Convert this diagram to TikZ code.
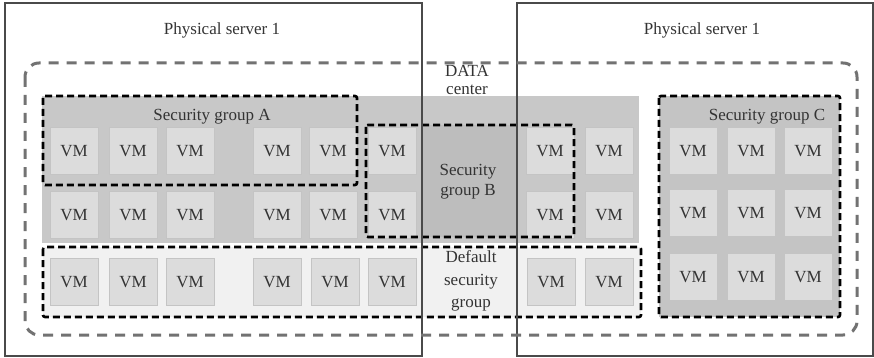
\documentclass[tikz,border=0pt]{standalone}
\usepackage{fontspec}
\setmainfont{Liberation Serif}
\definecolor{vmfill}{HTML}{DCDCDC}
\definecolor{vmline}{HTML}{C4C4C4}
\definecolor{hostfill}{HTML}{C8C8C8}
\definecolor{midfill}{HTML}{BDBDBD}
\definecolor{deffill}{HTML}{F1F1F1}
\definecolor{groupcfill}{HTML}{C4C4C4}
\definecolor{dcline}{HTML}{727272}
\definecolor{srvline}{HTML}{4A4A4A}
\tikzset{
  vm/.style={fill=vmfill, draw=vmline, line width=0.8pt, minimum width=48pt, minimum height=47pt, inner sep=0pt,
    text=black!80, font=\fontsize{17}{20}\selectfont},
  secgroup/.style={draw=black, line width=2.6pt, dash pattern=on 7pt off 4pt, rounded corners=2pt},
  dcbox/.style={draw=dcline, line width=3pt, dash pattern=on 10pt off 8pt, rounded corners=14pt},
  server/.style={draw=srvline, line width=1.2pt},
  lbl/.style={text=black!80, font=\fontsize{17}{20}\selectfont, align=center}
}
\begin{document}
\begin{tikzpicture}[x=1pt,y=-1pt]
\useasboundingbox (0,0) rectangle (874,358);

   % shaded areas
   \fill[hostfill] (42,96) rectangle (639,243);
   \fill[midfill] (422,125) rectangle (517,237);
   \fill[deffill] (43,247) rectangle (641,317);
   \fill[groupcfill] (659,96) rectangle (840,317);

   % VMs, first row
   \node[vm] at (74,151)  (a1) {VM};
   \node[vm] at (133,151) (a2) {VM};
   \node[vm] at (190,151) (a3) {VM};
   \node[vm] at (277,151) (a4) {VM};
   \node[vm] at (333,151) (a5) {VM};
   \node[vm] at (392,151) (b1) {VM};
   \node[vm] at (550,151) (b2) {VM};
   \node[vm] at (609,151) (h1) {VM};

   % VMs, second row
   \node[vm] at (74,215)  (h2) {VM};
   \node[vm] at (133,215) (h3) {VM};
   \node[vm] at (190,215) (h4) {VM};
   \node[vm] at (277,215) (h5) {VM};
   \node[vm] at (333,215) (h6) {VM};
   \node[vm] at (392,215) (b3) {VM};
   \node[vm] at (550,215) (b4) {VM};
   \node[vm] at (609,215) (h7) {VM};

   % VMs, third row
   \node[vm] at (74,282)  (d1) {VM};
   \node[vm] at (133,282) (d2) {VM};
   \node[vm] at (190,282) (d3) {VM};
   \node[vm] at (277,282) (d4) {VM};
   \node[vm] at (335,282) (d5) {VM};
   \node[vm] at (392,282) (d6) {VM};
   \node[vm] at (551,282) (d7) {VM};
   \node[vm] at (609,282) (d8) {VM};

   % VMs of group C
   \node[vm] at (693,151) (c1) {VM};
   \node[vm] at (751,151) (c2) {VM};
   \node[vm] at (808,151) (c3) {VM};
   \node[vm] at (693,213) (c4) {VM};
   \node[vm] at (751,213) (c5) {VM};
   \node[vm] at (808,213) (c6) {VM};
   \node[vm] at (693,277) (c7) {VM};
   \node[vm] at (751,277) (c8) {VM};
   \node[vm] at (808,277) (c9) {VM};

   % security groups
   \draw[secgroup] (43,96) rectangle (357,185);
   \draw[secgroup] (366,125) rectangle (574,237);
   \draw[secgroup] (43,247) rectangle (641,317);
   \draw[secgroup] (659,96) rectangle (840,317);

   % servers and data center
   \draw[server] (5,3) rectangle (422,356);
   \draw[server] (517,3) rectangle (873,356);
   \draw[dcbox] (25,63) rectangle (857,335);

   % labels
   \node[lbl] at (222,30) (srvA) {Physical server 1};
   \node[lbl] at (702,30) (srvB) {Physical server 1};
   \node[lbl, font=\fontsize{17}{18}\selectfont] at (467,80) (dc) {DATA\\center};
   \node[lbl] at (212,117) (sgA) {Security group A};
   \node[lbl] at (468,182) (sgB) {Security\\group B};
   \node[lbl] at (767,117) (sgC) {Security group C};
   \node[lbl, font=\fontsize{17}{22.5}\selectfont] at (471,281) (sgD) {Default\\security\\group};

\end{tikzpicture}
\end{document}
